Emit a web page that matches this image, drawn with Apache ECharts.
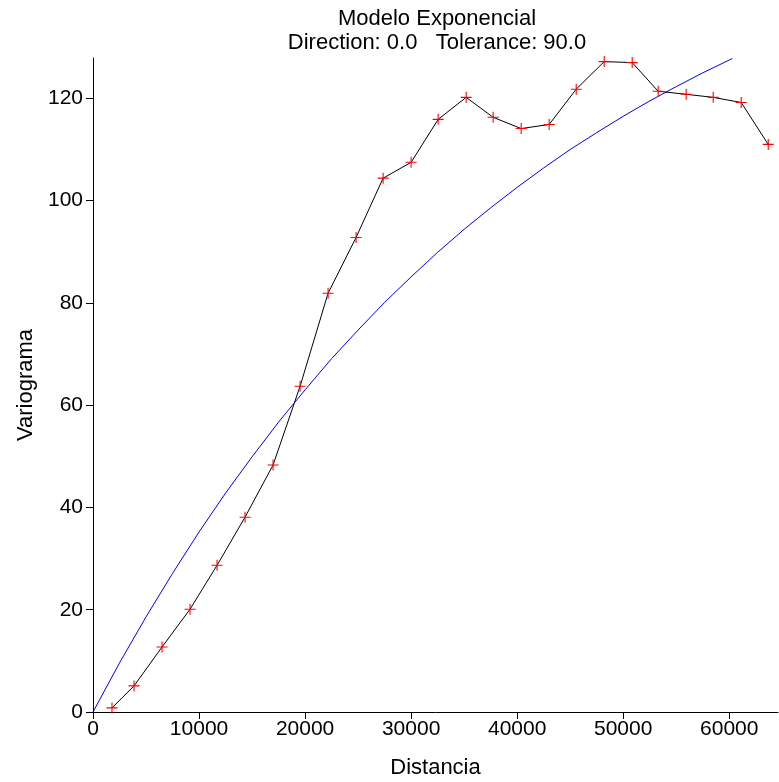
<!DOCTYPE html>
<html>
<head>
<meta charset="utf-8">
<script src="https://cdn.jsdelivr.net/npm/echarts@6/dist/echarts.min.js"></script>
<style>html,body{margin:0;padding:0;background:#fff}#c{width:779px;height:782px}</style>
</head>
<body>
<div id="c"></div>
<script>
// Experimental variogram (lag distance, value)
const lagDist = [1790, 3870, 6510, 9150, 11700, 14340, 16980, 19530, 22170, 24810, 27360, 30000, 32550, 35190, 37740, 40380, 43020, 45570, 48210, 50850, 53300, 55940, 58490, 61130, 63680];
const lagGamma = [0.8, 5.1, 12.7, 20.1, 28.7, 38.1, 48.3, 63.7, 81.9, 92.8, 104.4, 107.5, 115.9, 120.2, 116.3, 114.1, 114.9, 121.8, 127.2, 127.0, 121.4, 120.8, 120.2, 119.2, 111.0];
// Exponential model curve
const modelDist = [0, 2500, 5000, 7500, 10000, 12500, 15000, 17500, 20000, 22500, 25000, 27500, 30000, 32500, 35000, 37500, 40000, 42500, 45000, 47500, 50000, 52500, 55000, 57500, 60000, 60300];
const modelGamma = [0, 9.6, 18.6, 27.1, 35.2, 42.8, 49.9, 56.7, 63.0, 69.1, 74.7, 80.1, 85.1, 89.9, 94.4, 98.6, 102.6, 106.4, 110.0, 113.3, 116.5, 119.5, 122.3, 125.0, 127.5, 127.8];
const xTicks = [0, 10000, 20000, 30000, 40000, 50000, 60000];
const yTicks = [0, 20, 40, 60, 80, 100, 120];
const titleLines = ['Modelo Exponencial', 'Direction: 0.0   Tolerance: 90.0'];

const FONT = 'Liberation Sans, Arial, sans-serif';
const chart = echarts.init(document.getElementById('c'), null, {renderer: 'canvas'});
const plus = 'path://M0,4.5 L10,4.5 L10,5.5 L0,5.5 Z M4.5,0 L5.5,0 L5.5,10 L4.5,10 Z';

chart.setOption({
  animation: false,
  backgroundColor: '#fff',
  graphic: [{
    type: 'text', x: 437, y: 7,
    style: {text: titleLines.join('\n'), textAlign: 'center', textVerticalAlign: 'top',
      fontFamily: FONT, fontSize: 22, lineHeight: 24, fill: '#000'}
  }],
  grid: {left: 93, right: 1, top: 58, bottom: 70, containLabel: false, outerBoundsMode: 'none'},
  xAxis: {
    type: 'value', min: 0, max: 64600, interval: 10000,
    name: 'Distancia', nameLocation: 'middle', nameGap: 45,
    nameTextStyle: {fontFamily: FONT, fontSize: 22, color: '#000'},
    splitLine: {show: false},
    axisLine: {lineStyle: {color: '#000', width: 1}},
    axisTick: {show: true, inside: false, length: 7, lineStyle: {color: '#000'}, customValues: xTicks},
    axisLabel: {fontFamily: FONT, fontSize: 21, color: '#000', margin: 7, customValues: xTicks,
      formatter: v => String(v)}
  },
  yAxis: {
    type: 'value', min: 0, max: 127.9, interval: 20,
    name: 'Variograma', nameLocation: 'middle', nameGap: 45, nameRotate: 90,
    nameTextStyle: {fontFamily: FONT, fontSize: 22, color: '#000'},
    splitLine: {show: false},
    axisLine: {show: true, lineStyle: {color: '#000', width: 1}},
    axisTick: {show: true, inside: false, length: 7, lineStyle: {color: '#000'}, customValues: yTicks},
    axisLabel: {fontFamily: FONT, fontSize: 21, color: '#000', margin: 10, customValues: yTicks,
      formatter: v => String(v)}
  },
  series: [
    {
      type: 'line', name: 'modelo',
      data: modelDist.map((d, i) => [d, modelGamma[i]]),
      showSymbol: false, symbol: 'none',
      lineStyle: {color: '#0000ff', width: 1},
      z: 2
    },
    {
      type: 'line', name: 'experimental',
      data: lagDist.map((d, i) => [d, lagGamma[i]]),
      symbol: plus, symbolSize: 11, showSymbol: true,
      itemStyle: {color: '#ff0000'},
      lineStyle: {color: '#000', width: 1},
      z: 3
    }
  ]
});
</script>
</body>
</html>
